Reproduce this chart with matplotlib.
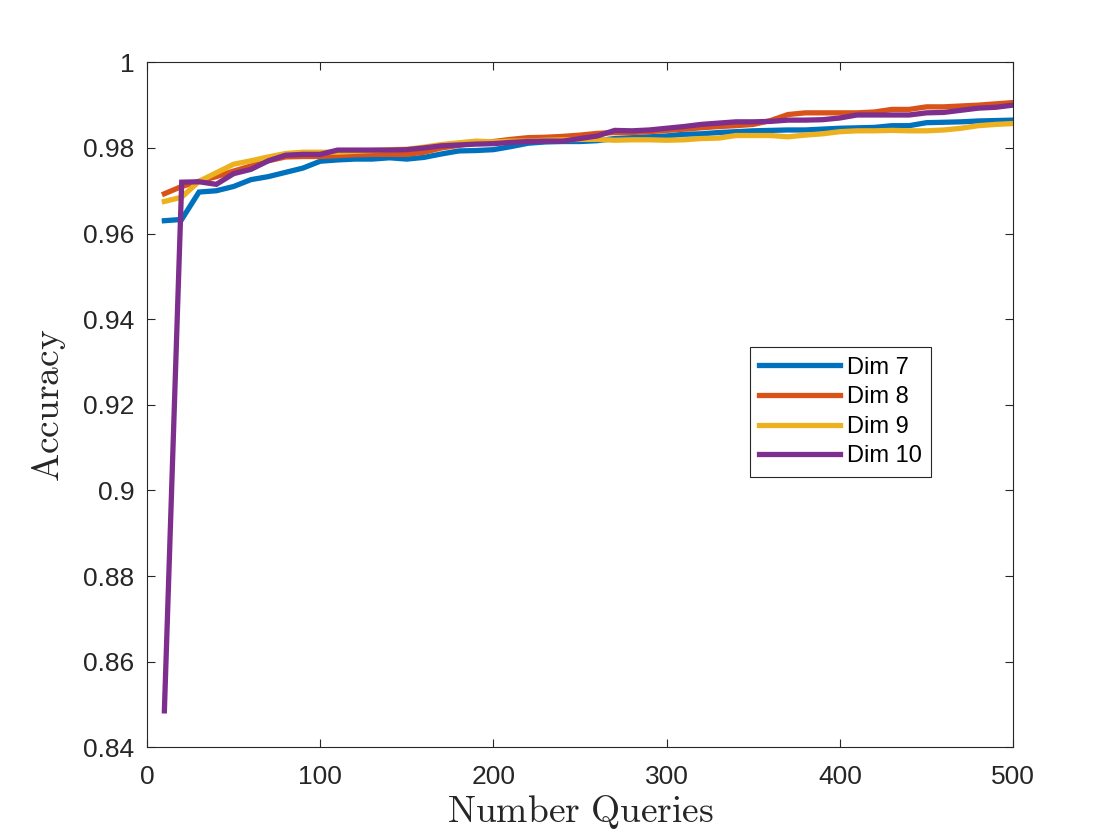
import matplotlib
matplotlib.use("Agg")
import matplotlib.pyplot as plt
import numpy as np

x_queries = list(range(10, 501, 10))

dim7 = [0.9630, 0.9633, 0.9697, 0.9700, 0.9710, 0.9726, 0.9733, 0.9743, 0.9753, 0.9769,
        0.9772, 0.9774, 0.9774, 0.9777, 0.9774, 0.9778, 0.9786, 0.9793, 0.9794, 0.9796,
        0.9803, 0.9811, 0.9814, 0.9815, 0.9815, 0.9817, 0.9822, 0.9824, 0.9826, 0.9828,
        0.9832, 0.9833, 0.9836, 0.9838, 0.9840, 0.9841, 0.9842, 0.9842, 0.9844, 0.9846,
        0.9847, 0.9848, 0.9852, 0.9852, 0.9859, 0.9860, 0.9861, 0.9863, 0.9864, 0.9865]

dim8 = [0.9693, 0.9710, 0.9722, 0.9733, 0.9746, 0.9758, 0.9770, 0.9779, 0.9780, 0.9780,
        0.9782, 0.9784, 0.9785, 0.9785, 0.9785, 0.9790, 0.9800, 0.9806, 0.9812, 0.9815,
        0.9820, 0.9824, 0.9825, 0.9827, 0.9830, 0.9834, 0.9836, 0.9836, 0.9838, 0.9841,
        0.9844, 0.9847, 0.9850, 0.9852, 0.9855, 0.9864, 0.9878, 0.9882, 0.9882, 0.9882,
        0.9882, 0.9884, 0.9890, 0.9890, 0.9896, 0.9896, 0.9898, 0.9900, 0.9903, 0.9906]

dim9 = [0.9675, 0.9685, 0.9722, 0.9742, 0.9762, 0.9770, 0.9779, 0.9787, 0.9790, 0.9790,
        0.9790, 0.9792, 0.9794, 0.9796, 0.9797, 0.9802, 0.9808, 0.9812, 0.9816, 0.9814,
        0.9816, 0.9816, 0.9818, 0.9819, 0.9820, 0.9820, 0.9818, 0.9819, 0.9819, 0.9818,
        0.9819, 0.9822, 0.9823, 0.9829, 0.9829, 0.9829, 0.9826, 0.9830, 0.9833, 0.9838,
        0.9840, 0.9840, 0.9841, 0.9840, 0.9840, 0.9842, 0.9846, 0.9852, 0.9855, 0.9857]

dim10 = [0.8485, 0.9720, 0.9721, 0.9715, 0.9740, 0.9750, 0.9770, 0.9783, 0.9785, 0.9785,
         0.9795, 0.9795, 0.9795, 0.9795, 0.9796, 0.9800, 0.9805, 0.9807, 0.9809, 0.9810,
         0.9813, 0.9815, 0.9816, 0.9816, 0.9822, 0.9828, 0.9841, 0.9840, 0.9842, 0.9846,
         0.9850, 0.9855, 0.9858, 0.9861, 0.9861, 0.9862, 0.9865, 0.9865, 0.9866, 0.9870,
         0.9877, 0.9877, 0.9877, 0.9877, 0.9882, 0.9883, 0.9888, 0.9893, 0.9895, 0.9900]

series_labels = ["Dim 7", "Dim 8", "Dim 9", "Dim 10"]
series_colors = ["#0072BD", "#D95319", "#EDB120", "#7E2F8E"]
x_ticks = [0, 100, 200, 300, 400, 500]
y_ticks = [0.84, 0.86, 0.88, 0.9, 0.92, 0.94, 0.96, 0.98, 1.0]
y_tick_labels = ["0.84", "0.86", "0.88", "0.9", "0.92", "0.94", "0.96", "0.98", "1"]

plt.rcParams["font.family"] = ["Liberation Sans", "DejaVu Sans"]
plt.rcParams["mathtext.fontset"] = "cm"

fig = plt.figure(figsize=(11.2, 8.4), dpi=100)
ax = fig.add_axes([0.1313, 0.1104, 0.7732, 0.8154])

for data, lab, col in zip([dim7, dim8, dim9, dim10], series_labels, series_colors):
    ax.plot(x_queries, data, color=col, lw=3.8, label=lab, solid_joinstyle="miter")

ax.set_xlim(0, 500)
ax.set_ylim(0.84, 1.0)
ax.set_xticks(x_ticks)
ax.set_xticklabels([str(t) for t in x_ticks])
ax.set_yticks(y_ticks)
ax.set_yticklabels(y_tick_labels)

gray = "#262626"
for s in ax.spines.values():
    s.set_color(gray)
    s.set_linewidth(0.8)
ax.tick_params(axis="both", direction="in", top=True, right=True, length=6,
               width=0.8, color=gray, labelcolor=gray, labelsize=19)
ax.tick_params(axis="x", pad=13)
ax.tick_params(axis="y", pad=9)

ax.set_xlabel(r"$\mathrm{Number\ Queries}$", fontsize=27, color=gray, labelpad=3)
ax.set_ylabel(r"$\mathrm{Accuracy}$", fontsize=27, color=gray, labelpad=11)

leg = ax.legend(loc="upper left", bbox_to_anchor=(0.696, 0.584), borderaxespad=0,
                fontsize=17, handlelength=3.4, handletextpad=0.3, labelspacing=0.32,
                borderpad=0.4, fancybox=False, framealpha=1, edgecolor=gray)
leg.get_frame().set_linewidth(0.8)

fig.savefig("out.png", dpi=100, facecolor="white")
